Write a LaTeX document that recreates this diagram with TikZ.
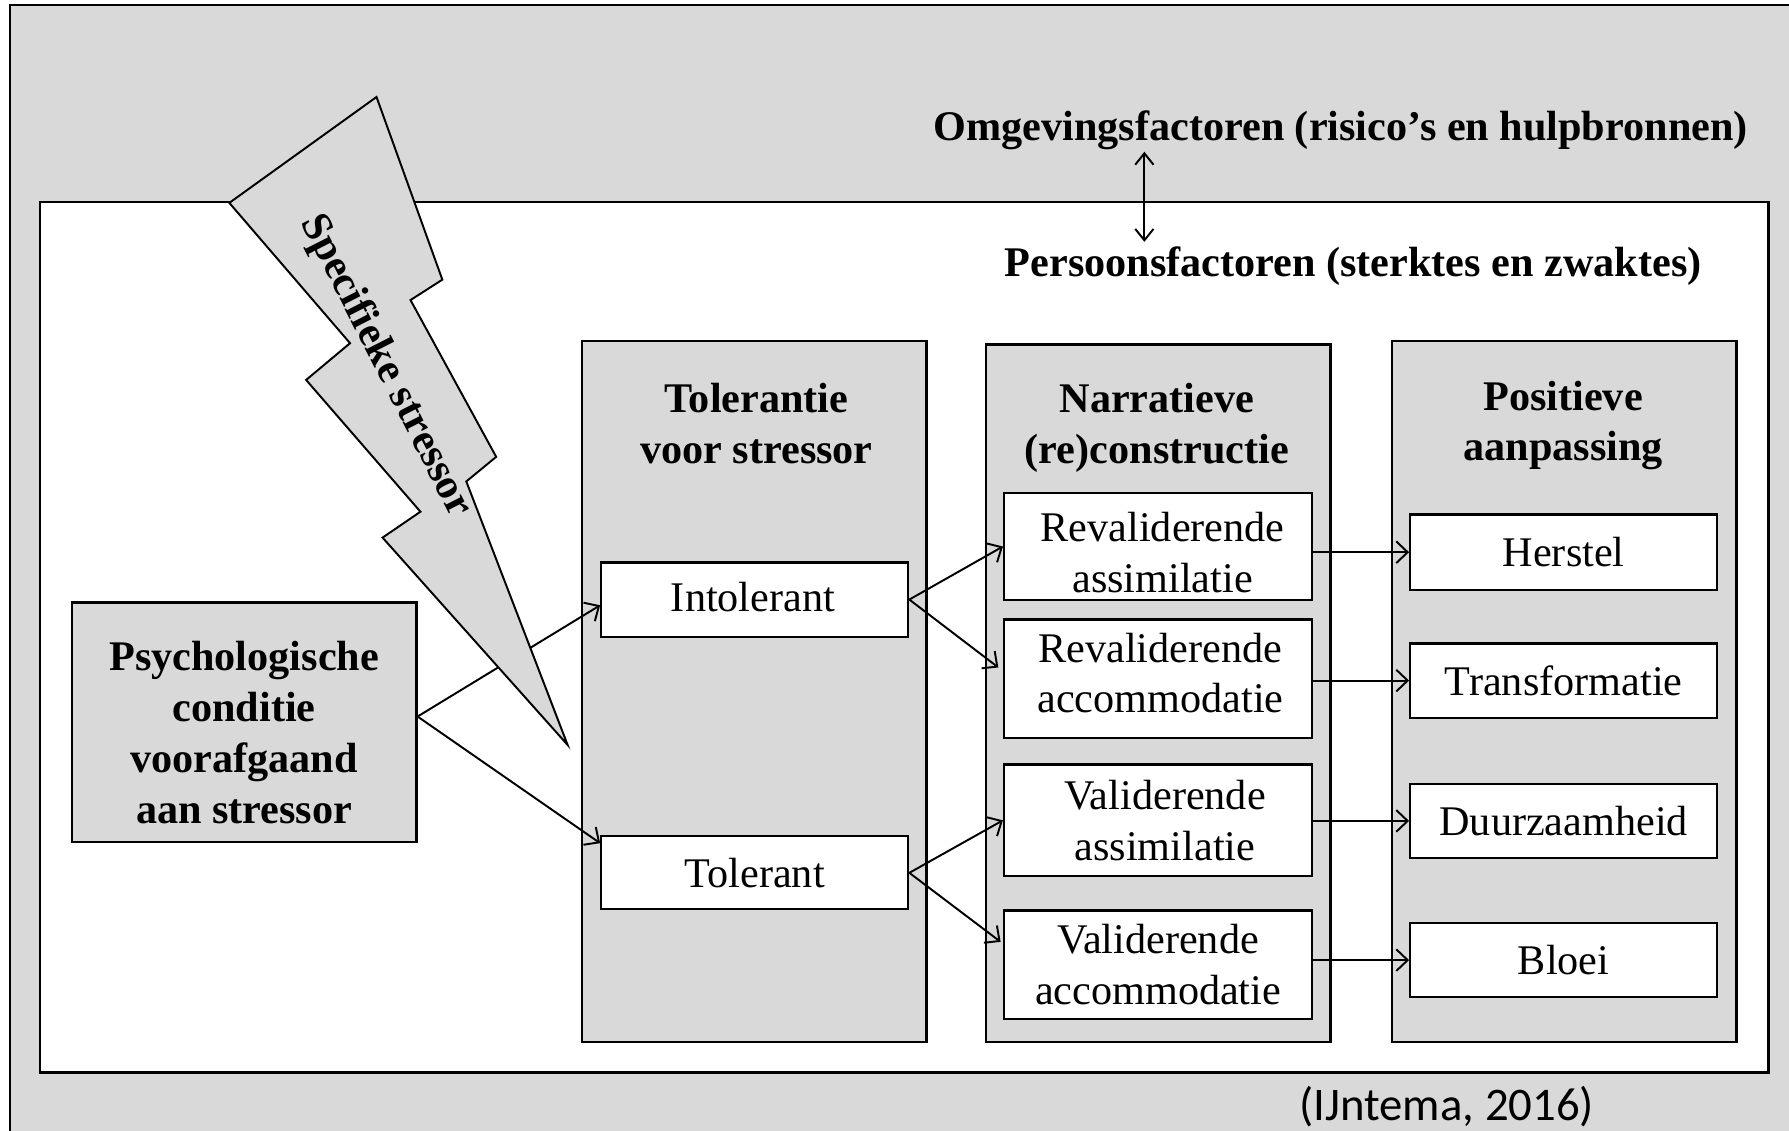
\documentclass[tikz,border=0pt]{standalone}
\usepackage{fontspec}
\setmainfont{Liberation Serif}
\newfontfamily\citefont{Carlito}
\usetikzlibrary{arrows.meta,calc}
\definecolor{bg}{RGB}{217,217,217}
\begin{document}
\begin{tikzpicture}[x=1pt,y=-1pt,
  txt/.style={font=\fontsize{37}{44.5}\selectfont,align=center,inner sep=0pt},
  btxt/.style={font=\fontsize{37}{44.5}\selectfont\bfseries,align=center,inner sep=0pt},
  graybox/.style={draw,line width=2pt,fill=bg,inner sep=0pt},
  whitebox/.style={draw,line width=2pt,fill=white,inner sep=0pt,txt},
  arr/.style={line width=1.7pt,-{Straight Barb[length=10pt,width=19pt,line width=1.7pt]}},
  darr/.style={line width=1.7pt,{Straight Barb[length=10pt,width=16pt,line width=1.7pt]}-{Straight Barb[length=10pt,width=16pt,line width=1.7pt]}}
]
\useasboundingbox (0,0) rectangle (1568,991);
% outer gray area
\fill[bg] (9,4.5) rectangle (1568,991);
\draw[line width=2pt] (9,991) -- (9,4.5) -- (1568,4.5);
% inner white area
\node[draw,line width=2pt,fill=white,minimum width=1515pt,minimum height=763pt,inner sep=0pt] (inner) at (792.5,558.5) {};

% top texts
\node[btxt] (omg) at (1175,114) {Omgevingsfactoren (risico’s en hulpbronnen)};
\node[btxt] (pers) at (1186,233) {Persoonsfactoren (sterktes en zwaktes)};
\coordinate (d1) at (1003,133);
\coordinate (d2) at (1003,212);
\draw[darr] (d1) -- (d2);

% psychological condition
\node[graybox,minimum width=302pt,minimum height=210pt] (psych) at (214,633) {};
\node[btxt] (psychT) at (214,642) {Psychologische\\conditie\\voorafgaand\\aan stressor};

% columns
\node[graybox,minimum width=302pt,minimum height=614pt] (colT) at (661,606) {};
\node[graybox,minimum width=302pt,minimum height=611pt] (colN) at (1015,607.5) {};
\node[graybox,minimum width=302pt,minimum height=614pt] (colP) at (1371,606) {};
\node[btxt] (tT) at (663,371) {Tolerantie\\voor stressor};
\node[btxt] (tN) at (1014,375) {Narratieve\\(re)constructie};
\node[btxt] (tP) at (1370,373) {Positieve\\aanpassing};

% inner boxes
\node[whitebox,minimum width=269pt,minimum height=65pt] (intol) at (661.5,525.5) {};
\node[txt] (intolT) at (660,523.5) {Intolerant};
\node[whitebox,minimum width=269pt,minimum height=64pt] (tol) at (661.5,765) {Tolerant};
\node[whitebox,minimum width=270pt,minimum height=94pt] (ra) at (1015,479) {};
\node[txt] (raT) at (1019,484) {Revaliderende\\assimilatie};
\node[whitebox,minimum width=270pt,minimum height=104pt] (rc) at (1015,595) {};
\node[txt] (rcT) at (1017,590) {Revaliderende\\accommodatie};
\node[whitebox,minimum width=270pt,minimum height=98pt] (va) at (1015,719) {};
\node[txt] (vaT) at (1021,719) {Validerende\\assimilatie};
\node[whitebox,minimum width=270pt,minimum height=95pt] (vc) at (1015,845.5) {Validerende\\accommodatie};
\node[whitebox,minimum width=269pt,minimum height=66pt] (herstel) at (1370.5,484) {Herstel};
\node[whitebox,minimum width=269pt,minimum height=65pt] (transf) at (1370.5,596.5) {Transformatie};
\node[whitebox,minimum width=269pt,minimum height=65pt] (duur) at (1370.5,719.5) {Duurzaamheid};
\node[whitebox,minimum width=269pt,minimum height=65pt] (bloei) at (1370.5,841.5) {Bloei};

% arrows
\draw[arr] ($(psych.east)+(0,-5)$) -- ($(intol.west)+(0,5)$);
\draw[arr] ($(psych.east)+(0,-5)$) -- ($(tol.north west)+(0,7)$);
\draw[arr] (intol.east) -- (ra.west);
\draw[arr] (intol.east) -- ($(rc.west)+(-4,-10)$);
\draw[arr] (tol.east) -- (va.west);
\draw[arr] (tol.east) -- ($(vc.west)+(-2,-20)$);
\draw[arr] (ra.east |- herstel) -- (herstel.west);
\draw[arr] (rc.east |- transf) -- (transf.west);
\draw[arr] (va.east |- duur) -- (duur.west);
\draw[arr] (vc.east |- bloei) -- (bloei.west);

% lightning bolt
\draw[line width=1.7pt,fill=bg,line join=miter]
  (330,85) -- (201,177.8) -- (306.8,300.8) -- (268.3,333) -- (368.5,448.5)
  -- (335.3,471.2) -- (497.5,652.9) -- (408.7,422) -- (434.9,400.4)
  -- (359.8,263) -- (387.7,245.1) -- cycle;
\node[btxt,rotate=-63] (stress) at (338,321) {Specifieke stressor};

% citation
\node[font=\fontsize{41}{48}\citefont,inner sep=0pt] (cite) at (1268,970) {(IJntema, 2016)};
\end{tikzpicture}
\end{document}
